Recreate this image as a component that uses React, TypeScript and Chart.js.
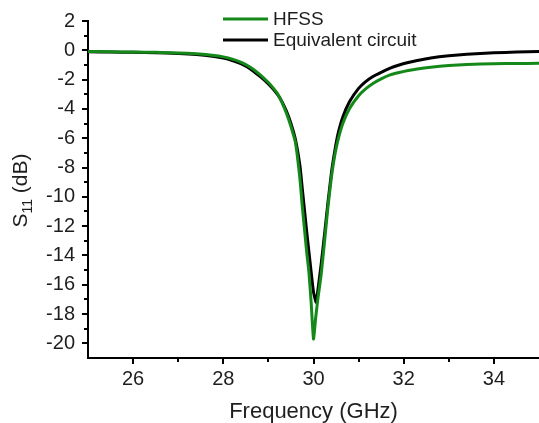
import React, { useEffect, useRef } from 'react';
import { Chart, registerables } from 'chart.js';

Chart.register(...registerables);

// ---- Data ----
const hfssFreq = [25.0, 25.5, 26.0, 26.5, 27.0, 27.4, 27.8, 28.0, 28.2, 28.4, 28.6, 28.8, 29.0, 29.1, 29.2, 29.3, 29.4, 29.5, 29.6, 29.7, 29.75, 29.8, 29.85, 29.9, 29.95, 30.0, 30.05, 30.1, 30.17, 30.25, 30.32, 30.4, 30.47, 30.54, 30.65, 30.8, 31.0, 31.15, 31.31, 31.5, 31.7, 31.9, 32.1, 32.3, 32.6, 33.0, 33.4, 34.0, 34.5, 35.0];
const hfssS11 = [-0.08, -0.1, -0.12, -0.14, -0.18, -0.24, -0.35, -0.45, -0.6, -0.82, -1.15, -1.62, -2.2, -2.55, -2.95, -3.55, -4.3, -5.2, -6.3, -8.8, -10.6, -12.2, -13.8, -15.2, -17.3, -19.7, -18.2, -16.9, -15.3, -12.9, -10.7, -8.6, -7.2, -6.16, -5.0, -3.97, -3.1, -2.65, -2.28, -1.95, -1.68, -1.52, -1.38, -1.27, -1.15, -1.04, -0.97, -0.92, -0.9, -0.89];

const circuitFreq = [25.0, 25.5, 26.0, 26.5, 27.0, 27.4, 27.8, 28.0, 28.2, 28.4, 28.6, 28.8, 29.0, 29.2, 29.3, 29.4, 29.5, 29.6, 29.7, 29.75, 29.8, 29.85, 29.9, 29.95, 30.0, 30.06, 30.1, 30.17, 30.25, 30.32, 30.4, 30.47, 30.54, 30.65, 30.8, 31.0, 31.15, 31.31, 31.5, 31.7, 31.9, 32.1, 32.3, 32.6, 33.0, 33.4, 34.0, 34.5, 35.0];
const circuitS11 = [-0.1, -0.12, -0.14, -0.17, -0.21, -0.28, -0.42, -0.53, -0.7, -0.93, -1.27, -1.75, -2.3, -3.0, -3.5, -4.15, -5.0, -6.1, -7.9, -9.4, -10.9, -12.4, -13.8, -15.2, -16.5, -17.2, -16.3, -14.6, -12.4, -10.4, -8.3, -6.9, -5.75, -4.55, -3.5, -2.6, -2.15, -1.8, -1.5, -1.22, -1.0, -0.83, -0.69, -0.52, -0.37, -0.27, -0.17, -0.12, -0.09];

const seriesLabels = ['HFSS', 'Equivalent circuit'];
const seriesColors = ['#14891a', '#000000'];

const xMajorTicks = [26, 28, 30, 32, 34];
const xMinorTicks = [27, 29, 31, 33];
const yMajorTicks = [2, 0, -2, -4, -6, -8, -10, -12, -14, -16, -18, -20];
const yMinorTicks = [1, -1, -3, -5, -7, -9, -11, -13, -15, -17, -19];

const xTitle = 'Frequency (GHz)';
const yTitleMain = 'S';
const yTitleSub = '11';
const yTitleTail = ' (dB)';

const FONT = '"Liberation Sans", Arial, sans-serif';
const TEXT_COLOR = '#1e1e1e';

const decorPlugin = {
  id: 'decor',
  afterDraw(chart: any) {
    const ctx = chart.ctx as CanvasRenderingContext2D;
    const xs = chart.scales.x;
    const ys = chart.scales.y;
    const area = chart.chartArea;
    ctx.save();
    // tick marks
    ctx.strokeStyle = '#000';
    ctx.lineWidth = 2;
    ctx.beginPath();
    xMajorTicks.forEach((v) => {
      const px = Math.round(xs.getPixelForValue(v));
      ctx.moveTo(px, area.bottom);
      ctx.lineTo(px, area.bottom + 6);
    });
    xMinorTicks.forEach((v) => {
      const px = Math.round(xs.getPixelForValue(v));
      ctx.moveTo(px, area.bottom);
      ctx.lineTo(px, area.bottom + 4);
    });
    yMajorTicks.forEach((v) => {
      const py = Math.round(ys.getPixelForValue(v));
      ctx.moveTo(area.left, py);
      ctx.lineTo(area.left - 6, py);
    });
    yMinorTicks.forEach((v) => {
      const py = Math.round(ys.getPixelForValue(v));
      ctx.moveTo(area.left, py);
      ctx.lineTo(area.left - 4, py);
    });
    ctx.stroke();

    // x title
    ctx.fillStyle = TEXT_COLOR;
    ctx.font = `22px ${FONT}`;
    ctx.textAlign = 'center';
    ctx.textBaseline = 'alphabetic';
    ctx.fillText(xTitle, (area.left + area.right) / 2, 418);

    // y title with subscript
    ctx.save();
    const cy = (area.top + area.bottom) / 2 + 1;
    ctx.translate(27, cy);
    ctx.rotate(-Math.PI / 2);
    const mainFont = `21px ${FONT}`;
    const subFont = `14px ${FONT}`;
    ctx.font = mainFont;
    const wMain = ctx.measureText(yTitleMain).width;
    const wTail = ctx.measureText(yTitleTail).width;
    ctx.font = subFont;
    const wSub = ctx.measureText(yTitleSub).width;
    const total = wMain + wSub + wTail;
    let x0 = -total / 2;
    ctx.textAlign = 'left';
    ctx.font = mainFont;
    ctx.fillText(yTitleMain, x0, 0);
    x0 += wMain;
    ctx.font = subFont;
    ctx.fillText(yTitleSub, x0, 5);
    x0 += wSub;
    ctx.font = mainFont;
    ctx.fillText(yTitleTail, x0, 0);
    ctx.restore();

    // legend
    const legendY = [19, 40];
    chart.data.datasets.forEach((ds: any, i: number) => {
      ctx.strokeStyle = ds.borderColor;
      ctx.lineWidth = 3;
      ctx.beginPath();
      ctx.moveTo(223, legendY[i]);
      ctx.lineTo(268, legendY[i]);
      ctx.stroke();
      ctx.fillStyle = TEXT_COLOR;
      ctx.font = `19px ${FONT}`;
      ctx.textAlign = 'left';
      ctx.textBaseline = 'middle';
      ctx.fillText(ds.label, 273, legendY[i] + 1);
    });
    ctx.restore();
  },
};

export default function App() {
  const canvasRef = useRef<HTMLCanvasElement | null>(null);

  useEffect(() => {
    document.body.style.margin = '0';
    const canvas = canvasRef.current;
    if (!canvas) return;
    const chart = new Chart(canvas, {
      type: 'line',
      data: {
        datasets: [
          {
            label: seriesLabels[0],
            data: hfssFreq.map((f, i) => ({ x: f, y: hfssS11[i] })),
            borderColor: seriesColors[0],
            backgroundColor: seriesColors[0],
            borderWidth: 3,
            pointRadius: 0,
            tension: 0.15,
            borderJoinStyle: 'round',
            fill: false,
          },
          {
            label: seriesLabels[1],
            data: circuitFreq.map((f, i) => ({ x: f, y: circuitS11[i] })),
            borderColor: seriesColors[1],
            backgroundColor: seriesColors[1],
            borderWidth: 3,
            pointRadius: 0,
            tension: 0.15,
            borderJoinStyle: 'round',
            fill: false,
          },
        ],
      },
      options: {
        animation: false,
        responsive: false,
        maintainAspectRatio: false,
        events: [],
        layout: { padding: { top: 21, right: 0, left: 0, bottom: 0 } },
        plugins: {
          legend: { display: false },
          tooltip: { enabled: false },
          title: { display: false },
        },
        scales: {
          x: {
            type: 'linear',
            position: 'bottom',
            min: 25,
            max: 35,
            afterBuildTicks: (s: any) => {
              s.ticks = xMajorTicks.map((v) => ({ value: v }));
            },
            afterFit: (s: any) => {
              s.height = 65;
              s.paddingLeft = 0;
              s.paddingRight = 0;
            },
            grid: { display: false, drawTicks: false },
            border: { display: true, color: '#000', width: 2 },
            ticks: {
              font: { family: FONT, size: 20 },
              color: TEXT_COLOR,
              padding: 9,
              maxRotation: 0,
              autoSkip: false,
              callback: (v: any) => String(v),
            },
          },
          y: {
            type: 'linear',
            position: 'left',
            min: -21,
            max: 2,
            afterBuildTicks: (s: any) => {
              s.ticks = yMajorTicks.map((v) => ({ value: v }));
            },
            afterFit: (s: any) => {
              s.width = 88;
              s.paddingTop = 0;
              s.paddingBottom = 0;
            },
            grid: { display: false, drawTicks: false },
            border: { display: true, color: '#000', width: 2 },
            ticks: {
              font: { family: FONT, size: 20 },
              color: TEXT_COLOR,
              padding: 13,
              autoSkip: false,
              callback: (v: any) => String(v),
            },
          },
        },
      },
      plugins: [decorPlugin],
    } as any);
    return () => chart.destroy();
  }, []);

  return (
    <div style={{ position: 'absolute', left: 0, top: 0, width: 539, height: 423 }}>
      <canvas ref={canvasRef} width={539} height={423} style={{ display: 'block' }} />
    </div>
  );
}
